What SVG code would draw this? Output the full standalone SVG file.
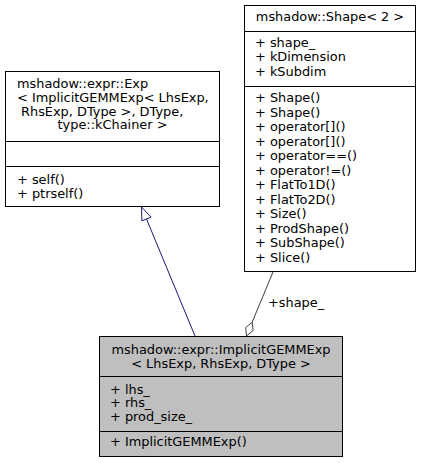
<svg xmlns="http://www.w3.org/2000/svg" width="421" height="463" viewBox="0 0 421 463">
<style>
text{font-family:"DejaVu Sans","Liberation Sans",sans-serif;font-size:12.9px;fill:#000}
.c{text-anchor:middle}
.box{fill:#fff;stroke:#000;stroke-width:1}
.sep{stroke:#000;stroke-width:1}
</style>
<rect width="421" height="463" fill="#fff"/>
<g id="edges">
<path d="M195,336 L146.5,219" fill="none" stroke="#191970" stroke-width="1"/>
<polygon points="141.5,207 151.1,217.1 141.9,220.9" fill="#fff" stroke="#191970" stroke-width="1"/>
<path d="M273,272 L252.2,322.1" fill="none" stroke="#404040" stroke-width="1"/>
<polygon points="252.2,322.1 253.1,330.5 246.5,336 245.7,327.5" fill="#fff" stroke="#404040" stroke-width="1"/>
<text x="268" y="307">+shape_</text>
</g>
<g id="exp">
<rect class="box" x="5.5" y="71.5" width="214" height="135"/>
<line class="sep" x1="5.5" y1="141.5" x2="219.5" y2="141.5"/>
<line class="sep" x1="5.5" y1="166.5" x2="219.5" y2="166.5"/>
<text x="17" y="88">mshadow::expr::Exp</text>
<text x="17" y="101.8">&lt; ImplicitGEMMExp&lt; LhsExp,</text>
<text x="21" y="115.6">RhsExp, DType &gt;, DType,</text>
<text class="c" x="112.5" y="129.4">type::kChainer &gt;</text>
<text x="17" y="184">+ self()</text>
<text x="17" y="198">+ ptrself()</text>
</g>
<g id="shape">
<rect class="box" x="244.5" y="5.5" width="171" height="266"/>
<line class="sep" x1="244.5" y1="31.5" x2="415.5" y2="31.5"/>
<line class="sep" x1="244.5" y1="86.5" x2="415.5" y2="86.5"/>
<text class="c" x="330" y="21">mshadow::Shape&lt; 2 &gt;</text>
<text x="255" y="46.5">+ shape_</text>
<text x="255" y="61">+ kDimension</text>
<text x="255" y="75.5">+ kSubdim</text>
<text x="255" y="102">+ Shape()</text>
<text x="255" y="116.5">+ Shape()</text>
<text x="255" y="131">+ operator[]()</text>
<text x="255" y="145.5">+ operator[]()</text>
<text x="255" y="160">+ operator==()</text>
<text x="255" y="174.5">+ operator!=()</text>
<text x="255" y="189">+ FlatTo1D()</text>
<text x="255" y="203.5">+ FlatTo2D()</text>
<text x="255" y="218">+ Size()</text>
<text x="255" y="232.5">+ ProdShape()</text>
<text x="255" y="247">+ SubShape()</text>
<text x="255" y="261.5">+ Slice()</text>
</g>
<g id="implicit">
<rect x="99.5" y="336.5" width="243" height="120" fill="#bfbfbf" stroke="#000" stroke-width="1"/>
<line class="sep" x1="99.5" y1="376.5" x2="342.5" y2="376.5"/>
<line class="sep" x1="99.5" y1="431.5" x2="342.5" y2="431.5"/>
<text class="c" x="221" y="354">mshadow::expr::ImplicitGEMMExp</text>
<text class="c" x="221" y="367.5">&lt; LhsExp, RhsExp, DType &gt;</text>
<text x="110" y="393.5">+ lhs_</text>
<text x="110" y="407">+ rhs_</text>
<text x="110" y="420.5">+ prod_size_</text>
<text x="110" y="446">+ ImplicitGEMMExp()</text>
</g>
</svg>
